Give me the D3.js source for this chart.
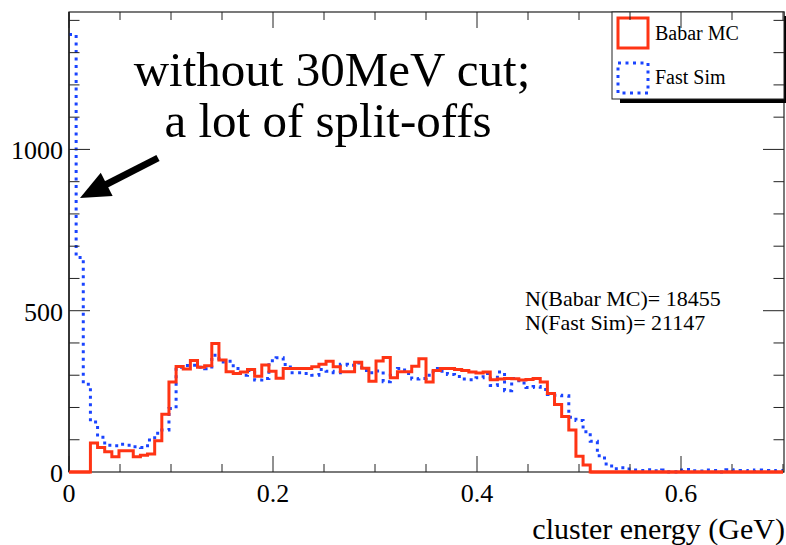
<!DOCTYPE html>
<html>
<head>
<meta charset="utf-8">
<script src="https://cdn.jsdelivr.net/npm/d3@7"></script>
<style>
html,body{margin:0;padding:0;background:#fff;}
svg{display:block;}
text{font-family:"Liberation Serif","Times New Roman",serif;fill:#000;}
</style>
</head>
<body>
<svg id="chart" width="786" height="545"></svg>
<script>
// ---- data ----
const binWidth = 0.007;
const xTickLabels = ["0", "0.2", "0.4", "0.6"];
const xTickValues = [0, 0.2, 0.4, 0.6];
const yTickLabels = ["0", "500", "1000"];
const yTickValues = [0, 500, 1000];
const seriesNames = ["Babar MC", "Fast Sim"];
const babarMC = [
  0, 0, 0, 90, 76, 63, 47, 66, 66, 47,
  52, 56, 97, 179, 279, 327, 319, 346, 325, 329,
  398, 347, 311, 305, 310, 318, 297, 332, 312, 291,
  321, 321, 321, 321, 326, 334, 343, 326, 311, 311,
  340, 322, 281, 344, 355, 292, 311, 311, 328, 351,
  279, 315, 321, 321, 318, 315, 310, 307, 310, 286,
  288, 290, 289, 285, 287, 290, 279, 243, 209, 172,
  130, 49, 22, 0, 0, 0, 0, 0, 0, 0,
  0, 0, 0, 0, 0, 0, 0, 0, 0, 0,
  0, 0, 0, 0, 0, 0, 0, 0, 0, 0
];
const fastSim = [
  1356, 665, 272, 155, 108, 83, 81, 86, 83, 78,
  76, 99, 120, 130, 197, 325, 330, 331, 325, 320,
  362, 341, 343, 321, 300, 315, 285, 290, 345, 354,
  333, 308, 308, 305, 300, 318, 312, 308, 334, 331,
  338, 315, 308, 313, 280, 300, 321, 305, 288, 290,
  300, 321, 312, 302, 296, 288, 286, 292, 305, 268,
  310, 252, 290, 276, 262, 265, 256, 240, 238, 236,
  170, 160, 125, 95, 50, 25, 10, 13, 9, 6,
  5, 7, 4, 6, 0, 6, 8, 4, 3, 6,
  5, 0, 7, 4, 5, 3, 6, 5, 4, 5
];
const statLines = ["N(Babar MC)= 18455", "N(Fast Sim)= 21147"];
const annotation = ["without 30MeV cut;", "a lot of split-offs"];
const xTitle = "cluster energy (GeV)";

(function () {
// ---- layout ----
const svg = d3.select("#chart");
const pL = 69, pR = 784, pT = 12, pB = 472;
const x = d3.scaleLinear().domain([0, 0.7]).range([pL, 783]);
const y = d3.scaleLinear().domain([0, 1426]).range([pB, pT]);
const red = "#ff3414", blue = "#1a44ff";

function histPoints(vals, startAtZero) {
  const pts = [];
  if (startAtZero) pts.push([x(0), y(0)]);
  vals.forEach((v, i) => {
    pts.push([x(i * binWidth), y(v)]);
    pts.push([x((i + 1) * binWidth), y(v)]);
  });
  return pts;
}
const line = d3.line();

// frame
svg.append("rect").attr("x", pL).attr("y", pT).attr("width", pR - pL).attr("height", pB - pT)
  .attr("fill", "none").attr("stroke", "#222").attr("stroke-width", 1.2);

// histograms
svg.append("path").attr("d", line(histPoints(fastSim, false)))
  .attr("fill", "none").attr("stroke", blue).attr("stroke-width", 3)
  .attr("stroke-dasharray", "3 4.5");
svg.append("path").attr("d", line(histPoints(babarMC, true)))
  .attr("fill", "none").attr("stroke", red).attr("stroke-width", 3)
  .attr("stroke-linejoin", "miter");

// legend with shadow
const lg = {x0: 612, y0: 12, x1: 784, y1: 99};
svg.append("rect").attr("x", lg.x0 + 8).attr("y", lg.y0 + 4).attr("width", lg.x1 - lg.x0).attr("height", lg.y1 - lg.y0)
  .attr("fill", "#000");
svg.append("rect").attr("x", lg.x0).attr("y", lg.y0).attr("width", lg.x1 - lg.x0).attr("height", lg.y1 - lg.y0)
  .attr("fill", "#fff").attr("stroke", "#222").attr("stroke-width", 1);
const legendColors = [red, blue];
seriesNames.forEach((name, i) => {
  const by = 17 + i * 45;
  svg.append("rect").attr("x", 618).attr("y", by + 1).attr("width", 30).attr("height", 30)
    .attr("fill", "none").attr("stroke", legendColors[i]).attr("stroke-width", 3)
    .attr("stroke-dasharray", i === 1 ? "3 4.5" : null);
  svg.append("text").attr("x", 655).attr("y", 40 + i * 43.5).attr("font-size", 20).text(name);
});

// axes ticks
const g = svg.append("g").attr("stroke", "#222").attr("stroke-width", 1);
for (let k = 0; k <= 14; k++) {
  const v = k * 0.05;
  const major = k % 4 === 0;
  const len = major ? 16 : 8;
  const xv = x(v);
  g.append("line").attr("x1", xv).attr("x2", xv).attr("y1", pB).attr("y2", pB - len);
  g.append("line").attr("x1", xv).attr("x2", xv).attr("y1", pT).attr("y2", pT + len);
}
for (let v = 0; v <= 1400; v += 100) {
  const major = v % 500 === 0;
  const len = major ? 21 : 10.5;
  const yv = y(v);
  g.append("line").attr("x1", pL).attr("x2", pL + len).attr("y1", yv).attr("y2", yv);
  g.append("line").attr("x1", pR).attr("x2", pR - len).attr("y1", yv).attr("y2", yv);
}
// left axis line thicker
svg.append("line").attr("x1", pL).attr("x2", pL).attr("y1", pT).attr("y2", pB)
  .attr("stroke", "#222").attr("stroke-width", 1.5);
// red baseline redraw on top of axis
svg.append("path").attr("d", line([[x(0), y(0)], [x(3 * binWidth), y(0)]]))
  .attr("stroke", red).attr("stroke-width", 3).attr("fill", "none");
svg.append("path").attr("d", line([[x(73 * binWidth), y(0)], [x(0.7), y(0)]]))
  .attr("stroke", red).attr("stroke-width", 3).attr("fill", "none");

// tick labels
xTickValues.forEach((v, i) => {
  svg.append("text").attr("x", x(v)).attr("y", 502).attr("text-anchor", "middle")
    .attr("font-size", 26).text(xTickLabels[i]);
});
yTickValues.forEach((v, i) => {
  svg.append("text").attr("x", 63).attr("y", y(v) + 10).attr("text-anchor", "end")
    .attr("font-size", 26).text(yTickLabels[i]);
});

// axis title
svg.append("text").attr("x", 785).attr("y", 539).attr("text-anchor", "end")
  .attr("font-size", 30).text(xTitle);

// statistics text
statLines.forEach((s, i) => {
  svg.append("text").attr("x", 525).attr("y", 306 + i * 24).attr("font-size", 22).text(s);
});

// annotation
svg.append("text").attr("x", 332).attr("y", 86).attr("text-anchor", "middle")
  .attr("font-size", 49).text(annotation[0]);
svg.append("text").attr("x", 328).attr("y", 137).attr("text-anchor", "middle")
  .attr("font-size", 49).text(annotation[1]);

// arrow
const tail = [158, 158], tip = [80, 198];
const dx = tip[0] - tail[0], dy = tip[1] - tail[1];
const L = Math.hypot(dx, dy), ux = dx / L, uy = dy / L;
const hl = 30, hw = 13;
const bx = tip[0] - ux * hl, by = tip[1] - uy * hl;
svg.append("line").attr("x1", tail[0]).attr("y1", tail[1]).attr("x2", bx + ux * 2).attr("y2", by + uy * 2)
  .attr("stroke", "#000").attr("stroke-width", 7);
svg.append("path").attr("d", line([tip, [bx - uy * hw, by + ux * hw], [bx + uy * hw, by - ux * hw]]) + "Z")
  .attr("fill", "#000");
})();
</script>
</body>
</html>
